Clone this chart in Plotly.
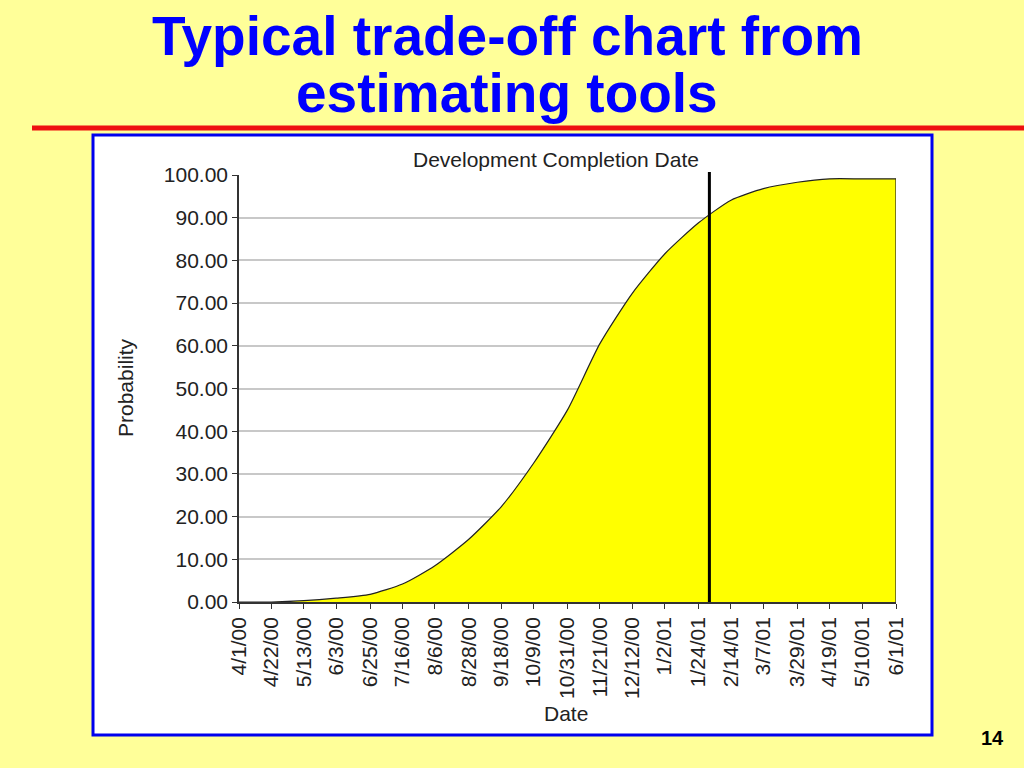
import plotly.graph_objects as go

# ---------------- data ----------------
dates = ["2000-04-01", "2000-04-22", "2000-05-13", "2000-06-03", "2000-06-25",
         "2000-07-16", "2000-08-06", "2000-08-28", "2000-09-18", "2000-10-09",
         "2000-10-31", "2000-11-21", "2000-12-12", "2001-01-02", "2001-01-24",
         "2001-02-14", "2001-03-07", "2001-03-29", "2001-04-19", "2001-05-10",
         "2001-06-01"]
tick_labels = ["4/1/00", "4/22/00", "5/13/00", "6/3/00", "6/25/00", "7/16/00",
               "8/6/00", "8/28/00", "9/18/00", "10/9/00", "10/31/00", "11/21/00",
               "12/12/00", "1/2/01", "1/24/01", "2/14/01", "3/7/01", "3/29/01",
               "4/19/01", "5/10/01", "6/1/01"]
probability = [0, 0, 0.3, 0.9, 1.8, 4.2, 8.5, 14.7, 22.3, 32.5, 45.0, 60.5,
               72.3, 81.5, 88.8, 94.1, 96.8, 98.3, 99.1, 99.1, 99.1]
y_ticks = [0, 10, 20, 30, 40, 50, 60, 70, 80, 90, 100]
completion_date = "2001-01-31"

title_line1 = "Typical trade-off chart from"
title_line2 = "estimating tools"
chart_title = "Development Completion Date"
page_number = "14"

# ---------------- layout geometry (pixels) ----------------
W, H = 1024, 768
PL, PR, PT, PB = 239, 896, 175, 602   # plot area


def px(x):
    return (x - PL) / (PR - PL)


def py(y):
    return (PB - y) / (PB - PT)


FONT = "Arial, 'Liberation Sans', sans-serif"
BG = "#FFFF99"

fig = go.Figure()

# filled probability curve
fig.add_trace(go.Scatter(
    x=dates, y=probability, mode="lines",
    fill="tozeroy", fillcolor="#FFFF00",
    line=dict(color="#222222", width=1.2, shape="spline", smoothing=0.6),
    hoverinfo="x+y", showlegend=False,
))
# right-hand closing edge of the area
fig.add_trace(go.Scatter(
    x=[dates[-1], dates[-1]], y=[probability[-1], 0], mode="lines",
    line=dict(color="#222222", width=1.2), hoverinfo="skip", showlegend=False,
))

shapes = [
    # red rule under the title
    dict(type="line", xref="paper", yref="paper",
         x0=px(32), x1=px(1030), y0=py(128), y1=py(128),
         line=dict(color="#EE1111", width=5), layer="below"),
    # white chart box with blue border
    dict(type="rect", xref="paper", yref="paper",
         x0=px(93), x1=px(932), y0=py(735), y1=py(135),
         fillcolor="white", line=dict(color="#0000EE", width=3), layer="below"),
    # completion date marker
    dict(type="line", xref="x", yref="paper",
         x0=completion_date, x1=completion_date, y0=0, y1=py(172),
         line=dict(color="black", width=3)),
]

annotations = [
    dict(text=title_line1, xref="paper", yref="paper", x=px(507), y=py(36),
         showarrow=False, xanchor="center", yanchor="middle",
         font=dict(family=FONT, size=55, color="#0000FF", weight="bold")),
    dict(text=title_line2, xref="paper", yref="paper", x=px(507), y=py(93),
         showarrow=False, xanchor="center", yanchor="middle",
         font=dict(family=FONT, size=55, color="#0000FF", weight="bold")),
    dict(text=chart_title, xref="paper", yref="paper", x=px(556), y=py(160),
         showarrow=False, xanchor="center", yanchor="middle",
         font=dict(family=FONT, size=21, color="#222222")),
    dict(text="Probability", xref="paper", yref="paper", x=px(125), y=py(388),
         showarrow=False, xanchor="center", yanchor="middle", textangle=-90,
         font=dict(family=FONT, size=21, color="#222222")),
    dict(text="Date", xref="paper", yref="paper", x=px(566), y=py(713),
         showarrow=False, xanchor="center", yanchor="middle",
         font=dict(family=FONT, size=21, color="#222222")),
    dict(text=page_number, xref="paper", yref="paper", x=px(992), y=py(738),
         showarrow=False, xanchor="center", yanchor="middle",
         font=dict(family=FONT, size=20, color="black", weight="bold")),
]

fig.update_layout(
    width=W, height=H, autosize=False,
    margin=dict(l=PL, r=W - PR, t=PT, b=H - PB, pad=0),
    paper_bgcolor=BG, plot_bgcolor="rgba(0,0,0,0)",
    shapes=shapes, annotations=annotations,
    font=dict(family=FONT, size=21, color="#222222"),
    xaxis=dict(
        type="date", range=[dates[0], dates[-1]],
        tickmode="array", tickvals=dates, ticktext=tick_labels,
        tickangle=-90, ticks="outside", ticklen=5, tickcolor="#333333",
        showgrid=False, showline=True, linecolor="#333333", linewidth=1.5,
        zeroline=False, tickfont=dict(family=FONT, size=21, color="#222222"),
    ),
    yaxis=dict(
        range=[0, 100], tickmode="array", tickvals=y_ticks, tickformat=".2f",
        ticks="outside", ticklen=5, tickcolor="#333333",
        showgrid=True, gridcolor="#C8C8C8", gridwidth=1.5,
        showline=True, linecolor="#333333", linewidth=1.5,
        zeroline=False, tickfont=dict(family=FONT, size=21, color="#222222"),
    ),
)

fig.write_html("out.html", config={"displayModeBar": False},
               post_script="document.body.style.margin='0';")
